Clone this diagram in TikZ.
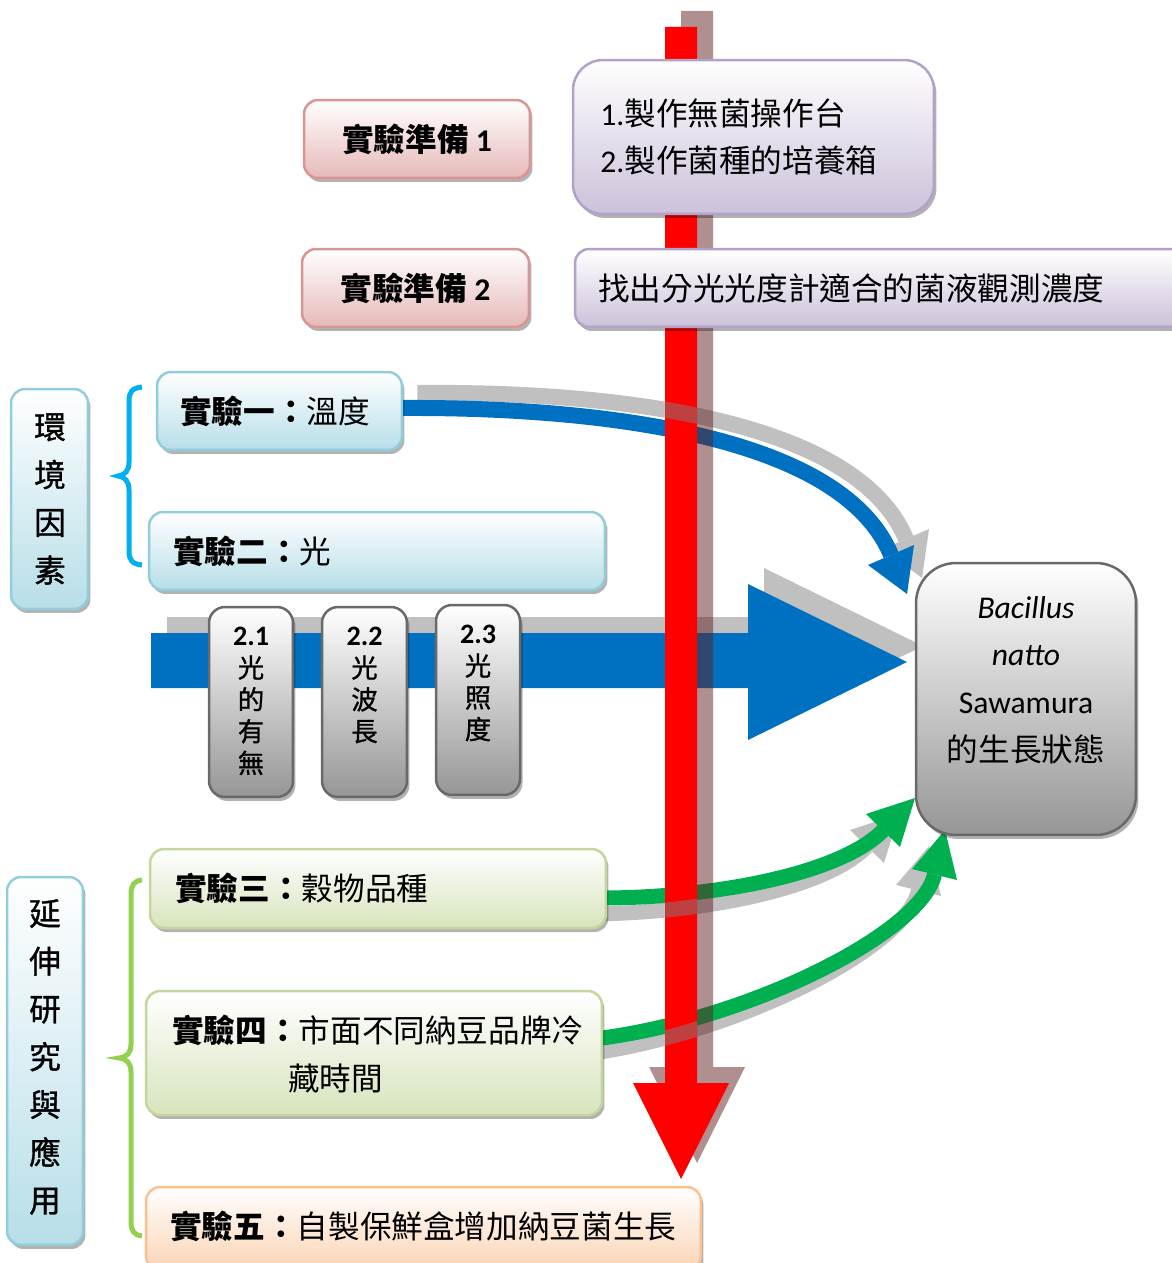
\documentclass[tikz,border=0pt]{standalone}
\usepackage{fontspec}
\setmainfont{Carlito}
\newfontfamily\cjk{Noto Sans CJK TC}
\newfontfamily\cjkm[FakeBold=1]{Noto Sans CJK TC}
\usetikzlibrary{shadows,calc}
\definecolor{pinkB}{RGB}{230,185,184}\definecolor{pinkD}{RGB}{217,149,148}
\definecolor{purpleB}{RGB}{204,193,218}\definecolor{purpleD}{RGB}{179,162,199}
\definecolor{blueB}{RGB}{183,222,232}\definecolor{blueD}{RGB}{146,205,220}
\definecolor{greenB}{RGB}{215,228,189}\definecolor{greenD}{RGB}{195,214,155}
\definecolor{orangeB}{RGB}{251,212,180}\definecolor{orangeD}{RGB}{250,192,144}
\definecolor{grayB}{RGB}{150,150,150}\definecolor{grayD}{RGB}{105,105,105}
\definecolor{aBlue}{RGB}{0,112,192}\definecolor{aGreen}{RGB}{0,176,80}
\definecolor{braceCyan}{RGB}{0,176,240}\definecolor{braceGreen}{RGB}{146,208,80}
\definecolor{shad}{RGB}{192,192,192}\definecolor{rshad}{RGB}{96,32,32}
\definecolor{grayfifty}{RGB}{128,128,128}
\newcommand\fa{\fontsize{18}{27.2}\selectfont}
\tikzset{
  gbox/.style 2 args={draw=#2, top color=white, bottom color=#1, line width=0.05cm,
    inner sep=0pt, drop shadow={shadow xshift=0.05cm, shadow yshift=-0.08cm, fill=black, opacity=0.3}},
  txt/.style={inner sep=0pt, font=\fa},
  bshaft/.style={line width=0.32cm},
  gshaft/.style={line width=0.3cm},
}
\begin{document}
\begin{tikzpicture}[x=0.02cm,y=0.02cm]
\useasboundingbox (0,0) rectangle (1171,-1263);

% horizontal blue arrow and its shadow
\fill[shad] (167,-617) -- (764,-617) -- (764,-568) -- (923,-646) -- (764,-724) -- (764,-672) -- (167,-672) -- cycle;
\fill[aBlue] (151,-633) -- (748,-633) -- (748,-584) -- (907,-662) -- (748,-740) -- (748,-688) -- (151,-688) -- cycle;

% invisible anchor nodes for boxes used by connectors (boxes drawn later)
\path (279.5,-411) node[minimum width=4.9cm, minimum height=1.56cm, inner sep=0pt] (e1a) {};
\path (378,-888.5) node[minimum width=9.12cm, minimum height=1.58cm, inner sep=0pt] (e3a) {};
\path (374,-1053) node[minimum width=9.12cm, minimum height=2.48cm, inner sep=0pt] (e4a) {};

% head coordinates
\coordinate (b1base) at (891,-555);
\coordinate (b1tip) at (907,-594);
\coordinate (g1base) at (883,-830.5);
\coordinate (g1tip) at (915,-798);
\coordinate (g2base) at (934.5,-874.5);
\coordinate (g2tip) at (945,-830);

% curve shadows (under everything else)
\draw[bshaft, shad] ($(e1a.east)+(15,18)$) .. controls (615,-391) and (856,-419) .. (906,-539);
\fill[shad] (929,-529) -- (922,-578) -- (883,-549) -- cycle;
\draw[gshaft, shad] ($(e3a.east)+(-16,-25.5)$) .. controls (704,-913) and (825,-889) .. (867,-846.5);
\fill[shad] (850,-830) -- (899,-814) -- (884,-863) -- cycle;
\draw[gshaft, shad] ($(e4a.east)+(-16,-1)$) .. controls (735,-1034) and (905,-949) .. (918.5,-890.5);
\fill[shad] (941,-896) -- (929,-846) -- (896,-885) -- cycle;

% curved arrows
\draw[bshaft, aBlue] ($(e1a.east)+(0,3)$) .. controls (600,-407) and (841,-435) .. (b1base);
\fill[aBlue] (914,-545) -- (b1tip) -- (868,-565) -- cycle;
\draw[gshaft, aGreen] ($(e3a.east)+(0,-9.5)$) .. controls (720,-897) and (841,-873) .. (g1base);
\fill[aGreen] (866,-814) -- (g1tip) -- (900,-847) -- cycle;
\draw[gshaft, aGreen] ($(e4a.east)+(0,15)$) .. controls (751,-1018) and (921,-933) .. (g2base);
\fill[aGreen] (912,-869) -- (g2tip) -- (957,-880) -- cycle;

% red arrow with shadow
\fill[rshad, opacity=.5] (681,-11) -- (713,-11) -- (713,-1067) -- (745,-1067) -- (697,-1163) -- (649,-1067) -- (681,-1067) -- cycle;
\fill[red] (665,-27) -- (697,-27) -- (697,-1083) -- (729,-1083) -- (681,-1179) -- (633,-1083) -- (665,-1083) -- cycle;
\begin{scope}
\clip (665,-27) -- (697,-27) -- (697,-1083) -- (729,-1083) -- (681,-1179) -- (633,-1083) -- (665,-1083) -- cycle;
\draw[bshaft, grayfifty, opacity=.5] ($(e1a.east)+(15,18)$) .. controls (615,-391) and (856,-419) .. (906,-539);
\draw[gshaft, grayfifty, opacity=.5] ($(e3a.east)+(-16,-25.5)$) .. controls (704,-913) and (825,-889) .. (867,-846.5);
\draw[gshaft, grayfifty, opacity=.5] ($(e4a.east)+(-16,-1)$) .. controls (735,-1034) and (905,-949) .. (918.5,-890.5);
\end{scope}

% braces
\draw[braceCyan, line width=0.1cm] (142,-387) .. controls (132,-388) and (129,-392) .. (129,-401) -- (129,-462) .. controls (129,-471) and (125,-475) .. (118,-476) .. controls (125,-477) and (129,-481) .. (129,-490) -- (129,-551) .. controls (129,-560) and (132,-564) .. (142,-565);
\draw[braceGreen, line width=0.1cm] (142,-880) .. controls (134,-881) and (131,-885) .. (131,-894) -- (131,-1044) .. controls (131,-1053) and (127,-1057) .. (119,-1058) .. controls (127,-1059) and (131,-1063) .. (131,-1072) -- (131,-1222) .. controls (131,-1231) and (134,-1235) .. (142,-1236);

% boxes
\node[gbox={pinkB}{pinkD}, rounded corners=0.28cm, minimum width=4.52cm, minimum height=1.56cm] (p1) at (417,-139) {};
\node[gbox={pinkB}{pinkD}, rounded corners=0.28cm, minimum width=4.54cm, minimum height=1.56cm] (p2) at (415.5,-288) {};
\node[gbox={purpleB}{purpleD}, rounded corners=0.6cm, minimum width=7.22cm, minimum height=3.08cm] (q1) at (753.5,-137) {};
\node[gbox={purpleB}{purpleD}, rounded corners=0.28cm, minimum width=12.4cm, minimum height=1.56cm] (q2) at (885,-288) {};
\node[gbox={blueB}{blueD}, rounded corners=0.28cm, minimum width=1.54cm, minimum height=4.4cm] (env) at (49.5,-499) {};
\node[gbox={blueB}{blueD}, rounded corners=0.28cm, minimum width=4.9cm, minimum height=1.56cm] (e1) at (279.5,-411) {};
\node[gbox={blueB}{blueD}, rounded corners=0.28cm, minimum width=9.12cm, minimum height=1.56cm] (e2) at (377,-551) {};
\node[gbox={grayB}{grayD}, rounded corners=0.32cm, minimum width=1.68cm, minimum height=3.8cm] (s1) at (251,-702) {};
\node[gbox={grayB}{grayD}, rounded corners=0.32cm, minimum width=1.7cm, minimum height=3.8cm] (s2) at (364.5,-702) {};
\node[gbox={grayB}{grayD}, rounded corners=0.32cm, minimum width=1.68cm, minimum height=3.8cm] (s3) at (478,-700) {};
\node[gbox={grayB}{grayD}, rounded corners=0.8cm, minimum width=4.4cm, minimum height=5.44cm] (bac) at (1026,-699) {};
\node[gbox={greenB}{greenD}, rounded corners=0.28cm, minimum width=9.12cm, minimum height=1.58cm] (e3) at (378,-888.5) {};
\node[gbox={greenB}{greenD}, rounded corners=0.28cm, minimum width=9.12cm, minimum height=2.48cm] (e4) at (374,-1053) {};
\node[gbox={orangeB}{orangeD}, rounded corners=0.28cm, minimum width=11.1cm, minimum height=1.66cm] (e5) at (423.5,-1228.5) {};
\node[gbox={blueB}{blueD}, rounded corners=0.28cm, minimum width=1.52cm, minimum height=7.36cm] (ext) at (45,-1061) {};

% texts
\node[txt] (p1t) at (417,-139) {{\cjk\bfseries 實驗準備}~\textbf{1}};
\node[txt] (p2t) at (415.5,-288) {{\cjk\bfseries 實驗準備}~\textbf{2}};
\node[txt, anchor=west, align=left, font=\fontsize{18}{26.6}\selectfont] (q1t) at (600,-137) {1.{\cjk 製作無菌操作台}\\2.{\cjk 製作菌種的培養箱}};
\node[txt, anchor=west] (q2t) at (598,-288) {\cjk 找出分光光度計適合的菌液觀測濃度};
\node[txt, align=center, font=\fa\cjkm] (envt) at (50,-499) {環\\境\\因\\素};
\node[txt, align=center, font=\fa\cjkm] (extt) at (45,-1057) {延\\伸\\研\\究\\與\\應\\用};
\node[txt, anchor=west] (e1t) at (180,-411) {{\cjk\bfseries 實驗一：}{\cjk 溫度}};
\node[txt, anchor=west] (e2t) at (173,-551) {{\cjk\bfseries 實驗二：}{\cjk 光}};
\node[txt, anchor=north, align=center, font=\fontsize{15}{18.1}\selectfont\cjkm] (s1t) at (251,-627) {{\rmfamily\bfseries\fontsize{16}{18.1}\selectfont 2.1}\\光\\的\\有\\無};
\node[txt, anchor=north, align=center, font=\fontsize{15}{18.1}\selectfont\cjkm] (s2t) at (364.5,-627) {{\rmfamily\bfseries\fontsize{16}{18.1}\selectfont 2.2}\\光\\波\\長};
\node[txt, anchor=north, align=center, font=\fontsize{15}{18.1}\selectfont\cjkm] (s3t) at (478,-625) {{\rmfamily\bfseries\fontsize{16}{18.1}\selectfont 2.3}\\光\\照\\度};
\node[txt, align=center] (bact) at (1026,-680) {\textit{Bacillus}\\\textit{natto}\\Sawamura\\{\cjk 的生長狀態}};
\node[txt, anchor=west] (e3t) at (175,-888) {{\cjk\bfseries 實驗三：}{\cjk 穀物品種}};
\node[txt, anchor=west, align=left] (e4t) at (172,-1054) {{\cjk\bfseries 實驗四：}{\cjk 市面不同納豆品牌冷}\\\hspace*{2.32cm}{\cjk 藏時間}};
\node[txt, anchor=west] (e5t) at (170,-1226) {{\cjk\bfseries 實驗五：}{\cjk 自製保鮮盒增加納豆菌生長}};
\end{tikzpicture}
\end{document}
